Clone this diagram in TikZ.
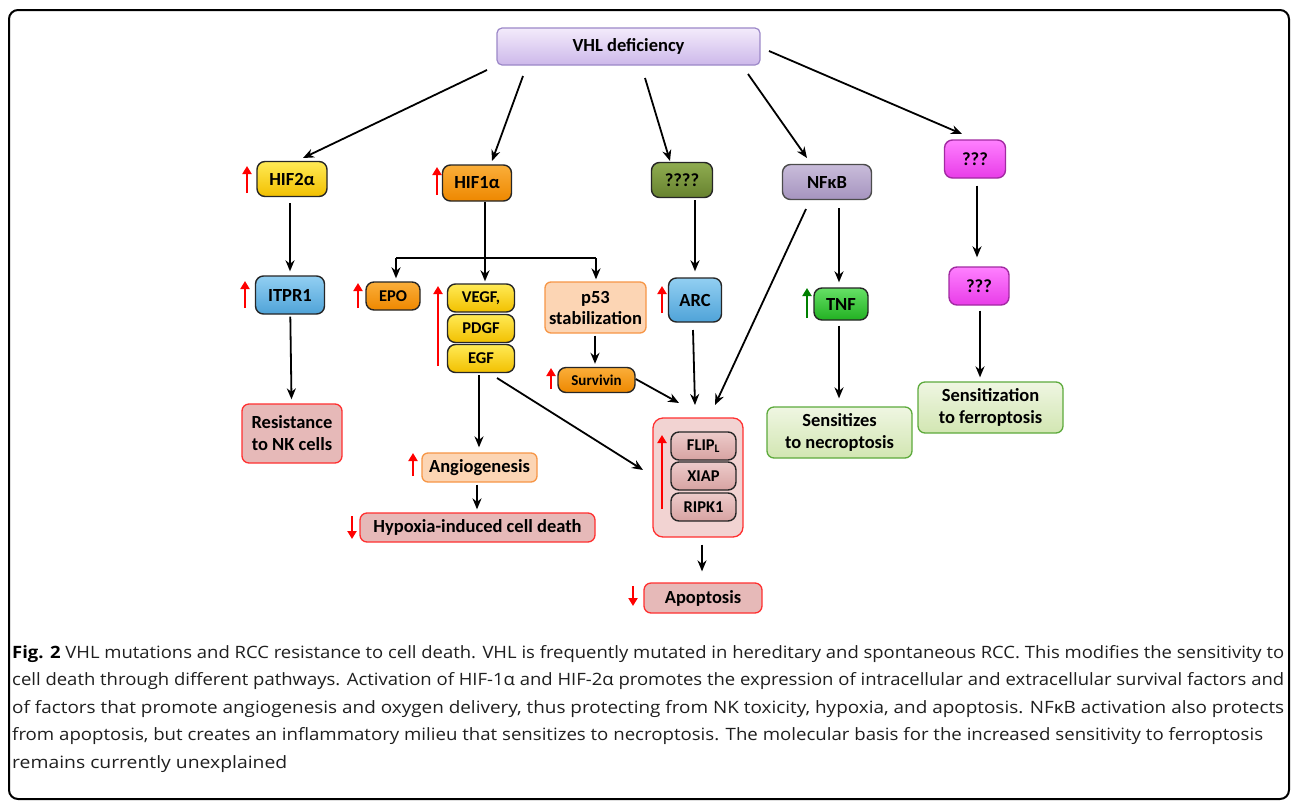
\documentclass[tikz,border=0pt]{standalone}
\usepackage{fontspec}
\setmainfont{Carlito}
\newfontfamily\capfont{Open Sans}
\usetikzlibrary{arrows.meta,calc}
\definecolor{ylt}{HTML}{FFEA55}\definecolor{ydk}{HTML}{F2C000}
\definecolor{olt}{HTML}{FAAE3A}\definecolor{odk}{HTML}{EE8800}
\definecolor{glt}{HTML}{8FAC50}\definecolor{gdk}{HTML}{67822F}
\definecolor{llt}{HTML}{C8BCDA}\definecolor{ldk}{HTML}{A594BF}
\definecolor{mlt}{HTML}{FF80FF}\definecolor{mdk}{HTML}{E83CE8}
\definecolor{blt}{HTML}{92CFF2}\definecolor{bdk}{HTML}{4FA3D8}
\definecolor{tlt}{HTML}{66E066}\definecolor{tdk}{HTML}{22B022}
\definecolor{plt}{HTML}{EDCBCA}\definecolor{pdk}{HTML}{D7A3A2}
\definecolor{vlt}{HTML}{F3EBFB}\definecolor{vdk}{HTML}{CDB8EA}\definecolor{vbd}{HTML}{9C88C8}
\definecolor{lofill}{HTML}{FCD5B4}\definecolor{lobd}{HTML}{F79646}
\definecolor{pkfill}{HTML}{E6B9B8}\definecolor{pkbd}{HTML}{FF3030}
\definecolor{cfill}{HTML}{F2D3D2}
\definecolor{grlt}{HTML}{EFF6E2}\definecolor{grdk}{HTML}{D2E6B2}\definecolor{grbd}{HTML}{5DAA3C}
\newsavebox\capbox
\newcommand\fitto[2]{\sbox\capbox{#2}\pgfmathsetmacro\capfac{#1/\the\wd\capbox}\scalebox{\capfac}[1]{\usebox\capbox}}
\newcommand\lbl{\fontsize{18.5}{20}\selectfont\bfseries}
\newcommand\lbs{\fontsize{16.5}{18}\selectfont\bfseries}
\tikzset{
  sz/.style 2 args={minimum width=#1, minimum height=#2},
  blob/.style={rounded corners=8pt, draw=black!85, line width=1.4pt, inner sep=0pt, align=center, font=\lbl},
  yel/.style={blob, top color=ylt, bottom color=ydk},
  ora/.style={blob, top color=olt, bottom color=odk},
  oli/.style={blob, top color=glt, bottom color=gdk},
  lav/.style={blob, top color=llt, bottom color=ldk, draw=black!70},
  mag/.style={blob, top color=mlt, bottom color=mdk, draw=mdk!70!black},
  blu/.style={blob, top color=blt, bottom color=bdk},
  grn/.style={blob, top color=tlt, bottom color=tdk},
  pks/.style={blob, top color=plt, bottom color=pdk},
  lor/.style={rounded corners=6pt, draw=lobd, line width=1.3pt, fill=lofill, inner sep=0pt, align=center, font=\lbl},
  pkb/.style={rounded corners=7pt, draw=pkbd, line width=1.3pt, fill=pkfill, inner sep=0pt, align=center, font=\lbl},
  grb/.style={rounded corners=7pt, draw=grbd, line width=1.3pt, top color=grlt, bottom color=grdk, inner sep=0pt, align=center, font=\lbl},
  conn/.style={line width=1.8pt, -{Stealth[length=11pt,width=9pt]}},
  plain/.style={line width=1.8pt},
  rup/.style={red, line width=2.6pt, -{Triangle[length=8pt,width=9pt]}},
  gup/.style={green!50!black, line width=2.6pt, -{Triangle[length=8pt,width=9pt]}},
  captext/.style={anchor=base west, inner sep=0pt, text=black!88, font=\capfont\fontsize{17}{20}\selectfont},
}
\begin{document}
\begin{tikzpicture}[x=1pt,y=-1pt]
\useasboundingbox (0,0) rectangle (1293,804);
\fill[white] (0,0) rectangle (1293,804);
\draw[line width=2pt, rounded corners=9pt] (9,10) rectangle (1289,799);

% nodes
\node[rounded corners=5pt, draw=vbd, line width=1.2pt, top color=vlt, bottom color=vdk, font=\lbl, sz={263pt}{37pt}] (vhl) at (628.5,46.5) {VHL deficiency};
\node[yel, sz={70pt}{35pt}] (hif2) at (292,179) {HIF2α};
\node[ora, sz={69pt}{36pt}] (hif1) at (477,183) {HIF1α};
\node[oli, sz={61pt}{35pt}] (qq4) at (682,180) {????};
\node[lav, sz={89pt}{35pt}] (nfkb) at (827,182) {NFκB};
\node[mag, sz={61pt}{38pt}] (q3a) at (975,159) {???};
\node[blu, sz={69pt}{38pt}] (itpr1) at (290,295) {ITPR1};
\node[ora, sz={54pt}{28pt}, font=\lbs] (epo) at (393,296) {EPO};
\node[yel, sz={67pt}{28pt}, font=\lbs] (vegf) at (481,298) {VEGF,};
\node[yel, sz={67pt}{28pt}, font=\lbs] (pdgf) at (481,328.5) {PDGF};
\node[yel, sz={67pt}{28pt}, font=\lbs] (egf) at (481,358.5) {EGF};
\node[lor, sz={101pt}{51pt}, font=\fontsize{18.5}{21}\selectfont\bfseries] (p53) at (595.5,307.5) {p53\\stabilization};
\node[blu, sz={53pt}{44pt}] (arc) at (695,300) {ARC};
\node[grn, sz={54pt}{32pt}] (tnf) at (841,304) {TNF};
\node[mag, sz={60pt}{38pt}] (q3b) at (979,286) {???};
\node[ora, sz={77pt}{25pt}, font=\fontsize{15}{16}\selectfont\bfseries] (surv) at (596.5,380) {Survivin};
\node[pkb, sz={100pt}{59pt}, font=\fontsize{18.5}{22}\selectfont\bfseries] (resist) at (292,433.5) {Resistance\\to NK cells};
\node[lor, sz={115pt}{29pt}] (angio) at (479.5,467.5) {Angiogenesis};
\node[pkb, sz={235pt}{29pt}] (hypox) at (477.5,527.5) {Hypoxia-induced cell death};
\node[rounded corners=10pt, draw=pkbd, line width=1.3pt, fill=cfill, sz={90pt}{119pt}, inner sep=0pt] (cont) at (698,477.5) {};
\node[pks, sz={65pt}{28pt}, font=\lbs] (flip) at (703.5,446) {FLIP\textsubscript{L}};
\node[pks, sz={65pt}{28pt}, font=\lbs] (xiap) at (703.5,476) {XIAP};
\node[pks, sz={65pt}{28pt}, font=\lbs] (ripk1) at (703.5,507) {RIPK1};
\node[pkb, sz={118pt}{30pt}] (apop) at (703,598) {Apoptosis};
\node[grb, sz={145pt}{51pt}, font=\fontsize{18.5}{22}\selectfont\bfseries] (necro) at (839.5,432.5) {Sensitizes\\to necroptosis};
\node[grb, sz={145pt}{51pt}, font=\fontsize{18.5}{22}\selectfont\bfseries] (ferro) at (990.5,407.5) {Sensitization\\to ferroptosis};

% red / green indicator arrows
\draw[rup] (247,193) -- (247,166);
\draw[rup] (437,195) -- (437,167);
\draw[rup] (245,308) -- (245,281);
\draw[rup] (358,308) -- (358,283);
\draw[rup] (438,366) -- (438,286);
\draw[rup] (662,313) -- (662,286);
\draw[rup] (551,389) -- (551,368);
\draw[rup] (413,476) -- (413,453);
\draw[rup] (662,509) -- (662,435);
\draw[gup] (807,318) -- (807,288);
\draw[rup] (352,516) -- (352,539);
\draw[rup] (633,586) -- (633,606);

% connectors from VHL
\coordinate (s1) at (487,70); \coordinate (e1) at (303,158);
\coordinate (s2) at (523,76); \coordinate (e2) at (492,161);
\coordinate (s3) at (645,78); \coordinate (e3) at (670,161);
\coordinate (s4) at (748,74); \coordinate (e4) at (807,158);
\coordinate (s5) at (769,51); \coordinate (e5) at (962,134);
\draw[conn] (s1) -- (e1);
\draw[conn] (s2) -- (e2);
\draw[conn] (s3) -- (e3);
\draw[conn] (s4) -- (e4);
\draw[conn] (s5) -- (e5);

% vertical chains
\draw[conn, shorten <=6pt, shorten >=4pt] (hif2.south -| 290,0) -- (itpr1.north -| 290,0);
\draw[conn, shorten <=2pt, shorten >=4pt] (itpr1) -- (resist);
\coordinate (hb) at (485,258);
\coordinate (bl) at (396,258);
\coordinate (br) at (596,258);
\draw[plain] (hif1.south -| hb) -- (hb);
\draw[plain] (bl) -- (br);
\draw[conn, shorten >=3pt] (bl) -- (bl |- epo.north);
\draw[conn, shorten >=2pt] (hb) -- (hb |- vegf.north);
\draw[conn, shorten >=2pt] (br) -- (br |- p53.north);
\draw[conn, shorten <=2pt, shorten >=3pt] (p53.south -| 595,0) -- (surv.north -| 595,0);
\draw[conn, shorten <=2pt, shorten >=6pt] (qq4.south -| 695,0) -- (arc.north -| 695,0);
\draw[conn, shorten <=8pt, shorten >=5pt] (nfkb.south -| 839,0) -- (tnf.north -| 839,0);
\draw[conn, shorten <=5pt, shorten >=8pt] (tnf.south -| 839,0) -- (necro.north -| 839,0);
\draw[conn, shorten <=7pt, shorten >=9pt] (q3a.south -| 977,0) -- (q3b.north -| 977,0);
\draw[conn, shorten <=5pt, shorten >=4pt] (q3b.south -| 980,0) -- (ferro.north -| 980,0);
\draw[conn, shorten <=2pt, shorten >=5pt] (egf.south -| 479,0) -- (angio.north -| 479,0);
\draw[conn, shorten <=2pt, shorten >=3pt] (angio.south -| 477,0) -- (hypox.north -| 477,0);
\draw[conn, shorten <=7pt, shorten >=11pt] (cont.south -| 702,0) -- (apop.north -| 702,0);

% to the container
\coordinate (t1) at (679,403);
\coordinate (t2) at (695,405);
\coordinate (t3) at (715,405);
\coordinate (t4) at (643,470);
\draw[conn] (surv.east |- 0,379) -- (t1);
\draw[conn] (693,330) -- (t2);
\draw[conn] (806,209) -- (t3);
\draw[conn] (497,378) -- (t4);

% caption
\node[captext] (c1) at (12,658) {\fitto{1272}{{\bfseries\color{black} Fig. 2} VHL mutations and RCC resistance to cell death. VHL is frequently mutated in hereditary and spontaneous RCC. This modifies the sensitivity to}};
\node[captext] (c2) at (12,685.5) {\fitto{1272}{cell death through different pathways. Activation of HIF-1α and HIF-2α promotes the expression of intracellular and extracellular survival factors and}};
\node[captext] (c3) at (12,713) {\fitto{1272}{of factors that promote angiogenesis and oxygen delivery, thus protecting from NK toxicity, hypoxia, and apoptosis. NFκB activation also protects}};
\node[captext] (c4) at (12,740.5) {\fitto{1251}{from apoptosis, but creates an inflammatory milieu that sensitizes to necroptosis. The molecular basis for the increased sensitivity to ferroptosis}};
\node[captext] (c5) at (12,768) {\fitto{275}{remains currently unexplained}};
\end{tikzpicture}
\end{document}
